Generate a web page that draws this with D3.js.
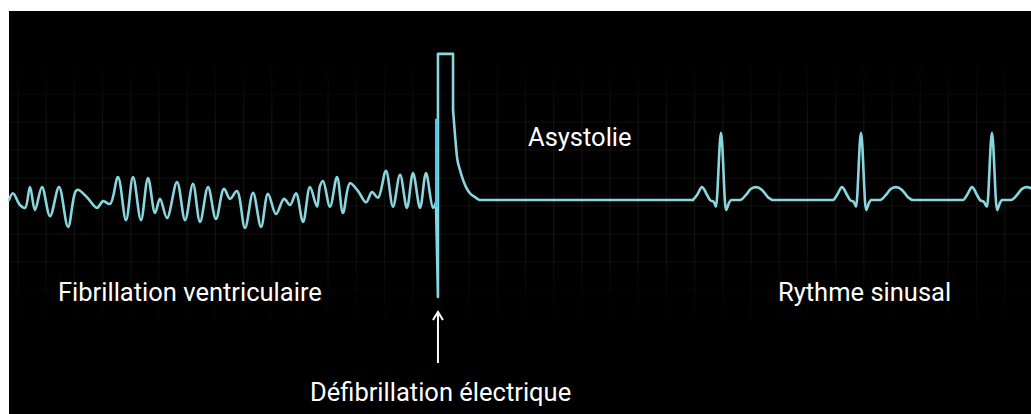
<!DOCTYPE html>
<html lang="fr">
<head>
<meta charset="utf-8">
<script src="https://cdn.jsdelivr.net/npm/d3@7"></script>
<style>
    body { margin: 0; background: #fff; }
    svg { display: block; }
    .label { fill: #fff; font-family: Roboto, "Noto Sans", sans-serif; font-size: 25.5px; }
    .trace { fill: none; stroke: #8ad6de; stroke-width: 2.6; stroke-linejoin: round; stroke-linecap: round; }
    .grid line { stroke: #fff; stroke-width: 1.2; }
    .grid line.v { stroke-opacity: 0.07; }
    .grid line.h { stroke-opacity: 0.05; }
</style>
</head>
<body>
<div id="ecg"></div>
<script>
    // time in ms, amplitude in mV
    var fibrillation = [
        [0, 0], [28, 0.12], [78, -0.09], [114, -0.14], [149, 0.23], [184, -0.18], [234, 0.23],
        [291, -0.29], [355, 0.23], [419, -0.48], [482, 0.18], [553, 0.05], [624, -0.14],
        [667, -0.02], [717, -0.07], [773, 0.41], [830, -0.36], [880, 0.41], [936, -0.36],
        [986, 0.39], [1036, -0.23], [1071, 0.02], [1121, -0.32], [1192, 0.32], [1249, -0.36],
        [1305, 0.29], [1355, -0.39], [1412, 0.23], [1468, -0.34], [1525, 0.20], [1568, 0.02],
        [1617, 0.16], [1674, -0.50], [1731, 0.13], [1788, -0.48], [1837, 0.11], [1894, -0.25],
        [1951, 0.02], [1994, -0.09], [2036, 0.12], [2086, -0.39], [2135, 0.23], [2185, -0.12],
        [2206, 0.25], [2228, 0.34], [2277, -0.12], [2327, 0.41], [2369, -0.23], [2419, 0.30],
        [2476, 0.16], [2533, -0.04], [2575, 0.14], [2618, 0.04], [2674, 0.52], [2724, -0.12],
        [2774, 0.45], [2823, -0.14], [2866, 0.48], [2916, -0.14], [2958, 0.48], [3008, -0.14],
        [3029, -0.05]
    ];
    var shock = [[3029, -0.05], [3043, -1.73], [3043, 2.61], [3150, 2.61], [3150, 1.61]];
    var decay = [
        [3150, 1.61], [3164, 1.16], [3178, 0.77], [3199, 0.54], [3221, 0.36], [3242, 0.23],
        [3270, 0.12], [3306, 0.05], [3341, 0.0], [3377, 0.0], [4852, 0.0]
    ];
    var sinus = [
        [4852, 0], [4881, 0.09], [4916, 0.23], [4952, 0.09], [4973, 0], [5001, -0.04],
        [5015, -0.12], [5051, 1.2], [5086, -0.18], [5108, -0.05], [5122, 0], [5186, 0],
        [5228, 0.09], [5264, 0.2], [5299, 0.23], [5342, 0.18], [5384, 0.05], [5420, 0],
        [5845, 0], [5874, 0.09], [5909, 0.23], [5945, 0.09], [5966, 0], [5994, -0.04],
        [6009, -0.12], [6044, 1.2], [6080, -0.18], [6101, -0.05], [6115, 0], [6179, 0],
        [6221, 0.09], [6257, 0.2], [6292, 0.23], [6335, 0.18], [6377, 0.05], [6413, 0],
        [6768, 0], [6796, 0.09], [6832, 0.23], [6867, 0.09], [6888, 0], [6917, -0.04],
        [6938, -0.12], [6973, 1.2], [7009, -0.18], [7030, -0.05], [7044, 0], [7108, 0],
        [7151, 0.09], [7186, 0.2], [7222, 0.23], [7250, 0.21]
    ];
    var shockTime = 3043;
    var gridTimes = d3.range(64, 7250, 200);
    var gridMv = [-1.61, -1.11, -0.61, -0.11, 0.39, 0.89, 1.39, 1.89, 2.39];

    var width = 1031, height = 414;
    var frame = {left: 9, top: 11};

    var x = d3.scaleLinear().domain([0, 7250]).range([frame.left, width]);
    var y = d3.scaleLinear().domain([-2, 3]).range([312, 32]);

    var svg = d3.select("#ecg").append("svg")
        .attr("width", width)
        .attr("height", height);

    var defs = svg.append("defs");
    var fade = defs.append("linearGradient")
        .attr("id", "fade")
        .attr("x1", 0).attr("y1", 0).attr("x2", 0).attr("y2", 1);
    fade.append("stop").attr("offset", "0.15").attr("stop-color", "#000");
    fade.append("stop").attr("offset", "0.3").attr("stop-color", "#fff");
    fade.append("stop").attr("offset", "0.58").attr("stop-color", "#fff");
    fade.append("stop").attr("offset", "0.78").attr("stop-color", "#000");
    defs.append("mask").attr("id", "gridMask")
        .append("rect")
        .attr("x", 0).attr("y", 0)
        .attr("width", width).attr("height", height)
        .attr("fill", "url(#fade)");

    svg.append("rect")
        .attr("x", frame.left)
        .attr("y", frame.top)
        .attr("width", width - frame.left)
        .attr("height", height - frame.top)
        .attr("fill", "#000");

    var grid = svg.append("g")
        .attr("class", "grid")
        .attr("mask", "url(#gridMask)");

    grid.selectAll("line.v")
        .data(gridTimes)
        .enter().append("line")
        .attr("class", "v")
        .attr("x1", function(d) { return x(d); })
        .attr("x2", function(d) { return x(d); })
        .attr("y1", frame.top)
        .attr("y2", height);

    grid.selectAll("line.h")
        .data(gridMv)
        .enter().append("line")
        .attr("class", "h")
        .attr("x1", frame.left)
        .attr("x2", width)
        .attr("y1", function(d) { return y(d); })
        .attr("y2", function(d) { return y(d); });

    var wave = d3.line()
        .x(function(d) { return x(d[0]); })
        .y(function(d) { return y(d[1]); })
        .curve(d3.curveCatmullRom.alpha(0.5));

    var smooth = d3.line()
        .x(function(d) { return x(d[0]); })
        .y(function(d) { return y(d[1]); })
        .curve(d3.curveMonotoneX);

    var straight = d3.line()
        .x(function(d) { return x(d[0]); })
        .y(function(d) { return y(d[1]); });

    svg.append("path").attr("class", "trace").attr("d", wave(fibrillation));
    svg.append("path").attr("class", "trace").attr("d", straight(shock));
    svg.append("path").attr("class", "trace").attr("d", smooth(decay));
    svg.append("path").attr("class", "trace").attr("d", smooth(sinus));

    // bright stroke where the shock is delivered
    svg.append("line")
        .attr("x1", x(shockTime) - 1.5).attr("x2", x(shockTime) - 1.5)
        .attr("y1", y(1.45)).attr("y2", y(-0.13))
        .attr("stroke", "#4fc6ec")
        .attr("stroke-width", 3);

    // arrow pointing at the shock
    var ax = x(shockTime);
    svg.append("line")
        .attr("x1", ax).attr("x2", ax)
        .attr("y1", 313).attr("y2", 363)
        .attr("stroke", "#fff").attr("stroke-width", 2);
    svg.append("path")
        .attr("d", "M" + (ax - 5) + ",320 L" + ax + ",312 L" + (ax + 5) + ",320")
        .attr("fill", "none")
        .attr("stroke", "#fff").attr("stroke-width", 2);

    svg.append("text").attr("class", "label")
        .attr("x", 58).attr("y", 301)
        .text("Fibrillation ventriculaire");
    svg.append("text").attr("class", "label")
        .attr("x", 528).attr("y", 146)
        .text("Asystolie");
    svg.append("text").attr("class", "label")
        .attr("x", 778).attr("y", 301)
        .text("Rythme sinusal");
    svg.append("text").attr("class", "label")
        .attr("x", 310).attr("y", 401)
        .text("Défibrillation électrique");
</script>
</body>
</html>
